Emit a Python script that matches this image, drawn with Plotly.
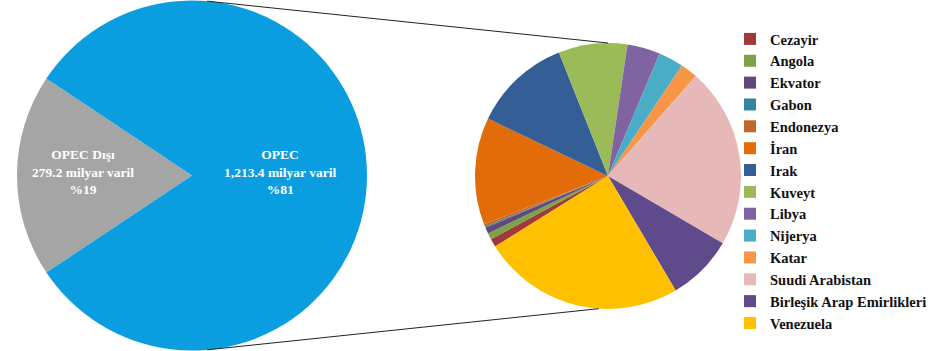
import math
import plotly.graph_objects as go

# ---- data ----
main_labels = ["OPEC Dışı", "OPEC"]
main_values = [279.2, 1213.4]
main_text = ["OPEC Dışı<br>279.2 milyar varil<br>%19", "OPEC<br>1,213.4 milyar varil<br>%81"]

opec_labels = ["Cezayir", "Angola", "Ekvator", "Gabon", "Endonezya", "İran", "Irak",
               "Kuveyt", "Libya", "Nijerya", "Katar", "Suudi Arabistan",
               "Birleşik Arap Emirlikleri", "Venezuela"]
opec_values = [12.2, 9.5, 8.8, 2.0, 3.7, 157.8, 144.2, 101.5, 48.4, 37.1, 25.2,
               266.6, 97.8, 298.6]

main_colors = ["#A5A5A5", "#0A9DDF"]
opec_colors = ["#A0393A", "#7EA344", "#60497A", "#31859C", "#C0682C", "#E36C0A",
               "#345E96", "#9BBB59", "#8064A2", "#4BACC6", "#F79646", "#E6B9B8",
               "#5F4B8B", "#FFC000"]

W, H = 943, 351
SERIF = "Liberation Serif, Times New Roman, DejaVu Serif, serif"

# geometry (pixels)
big_c, big_r = (192, 175.5), 175
small_c, small_r = (608, 176), 133


def dom(c, r):
    return dict(x=[(c[0] - r) / W, (c[0] + r) / W],
                y=[max(0, (H - c[1] - r) / H), min(1, (H - c[1] + r) / H)])


fig = go.Figure()

share = main_values[0] / sum(main_values) * 360
fig.add_trace(go.Pie(
    labels=main_labels, values=main_values, sort=False, direction="clockwise",
    rotation=270 - share / 2, marker=dict(colors=main_colors),
    textinfo="none", showlegend=False, domain=dom(big_c, big_r),
    hoverinfo="label+value"))

fig.add_trace(go.Pie(
    labels=opec_labels, values=opec_values, sort=False, direction="clockwise",
    rotation=238, marker=dict(colors=opec_colors),
    textinfo="none", showlegend=True, domain=dom(small_c, small_r),
    hoverinfo="label+value"))


def pt(c, r, ang):
    a = math.radians(ang)
    return (c[0] + r * math.sin(a)) / W, 1 - (c[1] - r * math.cos(a)) / H


shapes = []
for a_big, a_small in [(5, 0), (175, 184)]:
    x0, y0 = pt(big_c, big_r, a_big)
    x1, y1 = pt(small_c, small_r, a_small)
    shapes.append(dict(type="line", xref="paper", yref="paper",
                       x0=x0, y0=y0, x1=x1, y1=y1,
                       line=dict(color="#222222", width=1)))

lab_font = dict(family=SERIF, size=13.5, color="white")
annotations = [
    dict(x=83 / W, y=1 - 172 / H, xref="paper", yref="paper", xanchor="center", yanchor="middle",
         text="<b>" + main_text[0] + "</b>", showarrow=False, font=lab_font, align="center"),
    dict(x=280 / W, y=1 - 172 / H, xref="paper", yref="paper", xanchor="center", yanchor="middle",
         text="<b>" + main_text[1] + "</b>", showarrow=False, font=lab_font, align="center"),
]

fig.update_layout(
    width=W, height=H, margin=dict(l=0, r=0, t=0, b=0),
    paper_bgcolor="white", plot_bgcolor="white",
    font=dict(family=SERIF),
    shapes=shapes, annotations=annotations,
    legend=dict(x=730 / W, y=1 - 23 / H, xanchor="left", yanchor="top",
                font=dict(family=SERIF, size=14.5, color="#111111", weight="bold"),
                bgcolor="rgba(0,0,0,0)", tracegroupgap=0),
)

fig.write_html("out.html")
